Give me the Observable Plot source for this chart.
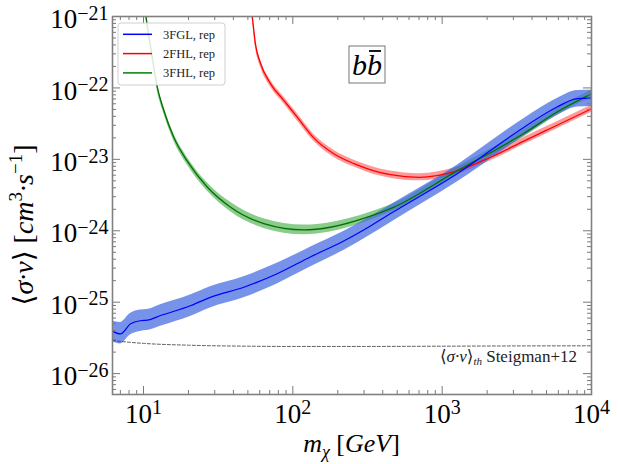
<!DOCTYPE html>
<html><head><meta charset="utf-8">
<script src="https://cdn.jsdelivr.net/npm/d3@7"></script>
<script src="https://cdn.jsdelivr.net/npm/@observablehq/plot@0.6"></script>
<style>body{margin:0;background:#fff}#chart{width:618px;height:464px}
#chart svg text{font-family:'Liberation Serif','DejaVu Serif',serif !important}</style>
</head><body><div id="chart"></div>
<script>
// ---- data (mass in GeV, <sigma v> in cm^3 s^-1) ----
const fglMass = [6.2, 7.0, 8.2, 9.5, 10.6, 13, 20.6, 28, 47, 78.5, 131, 219, 331, 451, 1260, 3520, 5880, 8040, 10000];
const fglVal  = [3.9e-26, 3.6e-26, 5.0e-26, 5.5e-26, 5.6e-26, 6.5e-26, 8.9e-26, 1.17e-25, 1.62e-25, 2.5e-25, 4.3e-25, 7.2e-25, 1.17e-24, 1.74e-24, 6.3e-24, 2.8e-23, 5.4e-23, 7.1e-23, 7.2e-23];
const fglLo   = [2.8e-26, 2.6e-26, 3.5e-26, 3.9e-26, 4.0e-26, 4.6e-26, 6.3e-26, 8.3e-26, 1.15e-25, 1.8e-25, 3.1e-25, 5.3e-25, 8.7e-25, 1.3e-24, 4.8e-24, 2.1e-23, 4.1e-23, 5.4e-23, 5.5e-23];
const fglHi   = [5.4e-26, 5.2e-26, 7.0e-26, 7.8e-26, 7.9e-26, 9.2e-26, 1.26e-25, 1.65e-25, 2.28e-25, 3.5e-25, 5.9e-25, 9.8e-25, 1.57e-24, 2.3e-24, 8.3e-24, 3.7e-23, 7.1e-23, 9.2e-23, 9.3e-23];

const fhl3Mass = [10.0, 10.4, 11.3, 12.4, 13.7, 16, 19.6, 26.7, 38.3, 64, 119, 178, 331, 451, 1260, 3520, 5880, 10000];
const fhl3Val  = [2.0e-21, 1.0e-21, 3.2e-22, 1.0e-22, 4.8e-23, 2.0e-23, 9.5e-24, 4.1e-24, 2.14e-24, 1.26e-24, 1.03e-24, 1.12e-24, 1.6e-24, 2.04e-24, 6.9e-24, 2.3e-23, 4.6e-23, 8.3e-23];
const fhl3Lo   = [1.8e-21, 8.9e-22, 2.85e-22, 8.9e-23, 4.3e-23, 1.78e-23, 8.4e-24, 3.6e-24, 1.85e-24, 1.08e-24, 8.8e-25, 9.6e-25, 1.4e-24, 1.8e-24, 6.1e-24, 2.05e-23, 4.1e-23, 7.4e-23];
const fhl3Hi   = [2.24e-21, 1.12e-21, 3.6e-22, 1.12e-22, 5.4e-23, 2.24e-23, 1.07e-23, 4.7e-24, 2.5e-24, 1.47e-24, 1.2e-24, 1.3e-24, 1.82e-24, 2.3e-24, 7.8e-24, 2.58e-23, 5.2e-23, 9.3e-23];

const fhl2Mass = [52, 53.5, 56.2, 60.8, 71, 87, 107, 138, 188, 257, 349, 451, 700, 1260, 2110, 3520, 5880, 10000];
const fhl2Val  = [1.6e-21, 1.0e-21, 4.1e-22, 2.2e-22, 1.14e-22, 6.7e-23, 3.9e-23, 2.0e-23, 1.2e-23, 8.7e-24, 6.9e-24, 6.1e-24, 5.6e-24, 6.9e-24, 1.07e-23, 1.8e-23, 3.0e-23, 5.1e-23];
const fhl2Lo   = [1.43e-21, 8.9e-22, 3.66e-22, 1.96e-22, 1.02e-22, 6.0e-23, 3.48e-23, 1.79e-23, 1.07e-23, 7.8e-24, 6.15e-24, 5.45e-24, 5.0e-24, 6.15e-24, 9.55e-24, 1.61e-23, 2.68e-23, 4.55e-23];
const fhl2Hi   = [1.79e-21, 1.12e-21, 4.6e-22, 2.46e-22, 1.28e-22, 7.5e-23, 4.37e-23, 2.24e-23, 1.34e-23, 9.7e-24, 7.75e-24, 6.85e-24, 6.3e-24, 7.75e-24, 1.2e-23, 2.02e-23, 3.36e-23, 5.7e-23];

const steigMass = [6.2, 8, 10, 20, 50, 100, 300, 1000, 3000, 10000];
const steigVal  = [2.9e-26, 2.75e-26, 2.65e-26, 2.5e-26, 2.42e-26, 2.4e-26, 2.4e-26, 2.42e-26, 2.44e-26, 2.45e-26];

const xMajor = [10, 100, 1000, 10000];
const xMinor = [7, 8, 9, 20, 30, 40, 50, 60, 70, 80, 90, 200, 300, 400, 500, 600, 700, 800, 900, 2000, 3000, 4000, 5000, 6000, 7000, 8000, 9000];
const yMajor = [1e-26, 1e-25, 1e-24, 1e-23, 1e-22, 1e-21];
const yMinor = [];
for (const e of [-27, -26, -25, -24, -23, -22]) for (const k of [2,3,4,5,6,7,8,9]) { const v = k * Math.pow(10, e); if (v > 5.2e-27) yMinor.push(v); }

const legendLabels = ["3FGL, rep", "2FHL, rep", "3FHL, rep"];
const legendColors = ["#0000ff", "#ff0000", "#008000"];

// ---- layout ----
const W = 618, H = 464, mL = 112, mR = 27, mT = 16, mB = 70;
const fw = W - mL - mR, fh = H - mT - mB;
const serif = "'Liberation Serif', 'DejaVu Serif', serif";

const rows = (m, c, lo, hi) => m.map((d, i) => ({m: d, c: c[i], lo: lo[i], hi: hi[i]}));
const fgl = rows(fglMass, fglVal, fglLo, fglHi);
const fhl3 = rows(fhl3Mass, fhl3Val, fhl3Lo, fhl3Hi);
const fhl2 = rows(fhl2Mass, fhl2Val, fhl2Lo, fhl2Hi);
const steig = steigMass.map((d, i) => ({m: d, v: steigVal[i]}));

const sup = d => "10^" + Math.round(Math.log10(d));
const tickColor = "#7a7a7a";

const plot = Plot.plot({
  width: W, height: H, marginLeft: mL, marginRight: mR, marginTop: mT, marginBottom: mB,
  style: {fontFamily: serif, background: "#fff", color: "#000"},
  x: {type: "log", domain: [6.2, 1e4]},
  y: {type: "log", domain: [5.1e-27, 1e-21]},
  marks: [
    Plot.areaY(fhl2, {x: "m", y1: "lo", y2: "hi", fill: "#ff2020", fillOpacity: 0.45, curve: "monotone-x", clip: true}),
    Plot.areaY(fhl3, {x: "m", y1: "lo", y2: "hi", fill: "#2ca02c", fillOpacity: 0.55, curve: "monotone-x", clip: true}),
    Plot.areaY(fgl, {x: "m", y1: "lo", y2: "hi", fill: "#4169e1", fillOpacity: 0.72, curve: "monotone-x", clip: true}),
    Plot.line(fhl2, {x: "m", y: "c", stroke: "#ff0000", strokeWidth: 1.3, curve: "monotone-x", clip: true}),
    Plot.line(fhl3, {x: "m", y: "c", stroke: "#007000", strokeWidth: 1.3, curve: "monotone-x", clip: true}),
    Plot.line(fgl, {x: "m", y: "c", stroke: "#0000ff", strokeWidth: 1.2, curve: "monotone-x", clip: true}),
    Plot.line(steig, {x: "m", y: "v", stroke: "#333", strokeWidth: 0.8, strokeDasharray: "3,2", curve: "monotone-x"}),
    // inward ticks on all four sides
    Plot.tickX(xMajor, {x: d => d, insetTop: fh - 8, stroke: tickColor}),
    Plot.tickX(xMajor, {x: d => d, insetBottom: fh - 8, stroke: tickColor}),
    Plot.tickX(xMinor, {x: d => d, insetTop: fh - 4, stroke: tickColor}),
    Plot.tickX(xMinor, {x: d => d, insetBottom: fh - 4, stroke: tickColor}),
    Plot.tickY(yMajor, {y: d => d, insetRight: fw - 8, stroke: tickColor}),
    Plot.tickY(yMajor, {y: d => d, insetLeft: fw - 8, stroke: tickColor}),
    Plot.tickY(yMinor, {y: d => d, insetRight: fw - 4, stroke: tickColor}),
    Plot.tickY(yMinor, {y: d => d, insetLeft: fw - 4, stroke: tickColor}),
    Plot.frame({stroke: "#808080", strokeWidth: 1.6}),
    Plot.axisX({ticks: xMajor, tickFormat: sup, tickSize: 0, tickPadding: 9, fontSize: 27, label: null}),
    Plot.axisY({ticks: yMajor, tickFormat: sup, tickSize: 0, tickPadding: 4, fontSize: 27, dy: 3, label: null})
  ]
});
document.getElementById("chart").appendChild(plot);

const svg = d3.select(plot);
const xs = plot.scale("x"), ys = plot.scale("y");

// superscript tick labels
svg.selectAll('g[aria-label="x-axis tick label"] text, g[aria-label="y-axis tick label"] text').each(function () {
  const t = this.textContent;
  const m = t.match(/^10\^(-?\d+)$/);
  if (!m) return;
  const el = d3.select(this);
  el.text(null);
  el.append("tspan").text("10");
  el.append("tspan").attr("dy", "-0.42em").attr("font-size", 20).text(m[1].replace("-", "\u2212"));
});

// helper for rich text
function rich(g, parts) {
  for (const p of parts) {
    const ts = g.append("tspan").text(p.t);
    if (p.i) ts.attr("font-style", "italic");
    if (p.fs) ts.attr("font-size", p.fs);
    if (p.dy != null) ts.attr("dy", p.dy);
  }
}
const txt = (x, y, size, anchor) => svg.append("text").attr("x", x).attr("y", y)
  .attr("text-anchor", anchor).attr("font-size", size).attr("font-family", serif).attr("fill", "#000");

// y-axis title
const yt = txt(0, 0, 28, "middle").attr("transform", "translate(33,225) rotate(-90)");
rich(yt, [
  {t: "\u27E8"}, {t: "\u03C3\u00B7v", i: 1}, {t: "\u27E9"}, {t: " ["},
  {t: "cm", i: 1}, {t: "3", fs: 19, dy: -11}, {t: "\u00B7s", i: 1, dy: 11},
  {t: "\u22121", fs: 19, dy: -11}, {t: "]", dy: 11}
]);

// x-axis title
const xt = txt((mL + W - mR) / 2, 452, 26, "middle");
rich(xt, [
  {t: "m", i: 1}, {t: "\u03C7", i: 1, fs: 18, dy: 6}, {t: " [", dy: -6}, {t: "GeV", i: 1}, {t: "]"}
]);

// Steigman label
const st = txt(xs.apply(1e4) - 14, ys.apply(1.45e-26), 17, "end").attr("fill", "#222");
rich(st, [
  {t: "\u27E8"}, {t: "\u03C3\u00B7v", i: 1}, {t: "\u27E9"}, {t: "th", i: 1, fs: 11, dy: 3}, {t: " Steigman+12", dy: -3}
]);

// b b-bar label box
const bx = 349, by = 46;
svg.append("rect").attr("x", bx).attr("y", by).attr("width", 36).attr("height", 37)
  .attr("fill", "#fff").attr("stroke", "#777").attr("stroke-width", 1);
const bt = txt(bx + 18, by + 29, 30, "middle").attr("font-style", "italic");
bt.append("tspan").text("b");
bt.append("tspan").text("b");
svg.append("line").attr("x1", bx + 20).attr("x2", bx + 32).attr("y1", by + 5).attr("y2", by + 5)
  .attr("stroke", "#000").attr("stroke-width", 1.8);

// legend
const lg = svg.append("g");
lg.append("rect").attr("x", 118).attr("y", 23).attr("width", 107).attr("height", 62).attr("rx", 3)
  .attr("fill", "#fff").attr("fill-opacity", 0.85).attr("stroke", "#d0d0d0");
legendLabels.forEach((lab, i) => {
  const yy = 34.3 + i * 19.3;
  lg.append("line").attr("x1", 123).attr("x2", 152).attr("y1", yy).attr("y2", yy)
    .attr("stroke", legendColors[i]).attr("stroke-width", 1.5);
  lg.append("text").attr("x", 163).attr("y", yy + 4.2).attr("text-anchor", "start").attr("font-size", 12.5)
    .attr("font-family", serif).attr("fill", "#222").text(lab);
});
</script></body></html>
